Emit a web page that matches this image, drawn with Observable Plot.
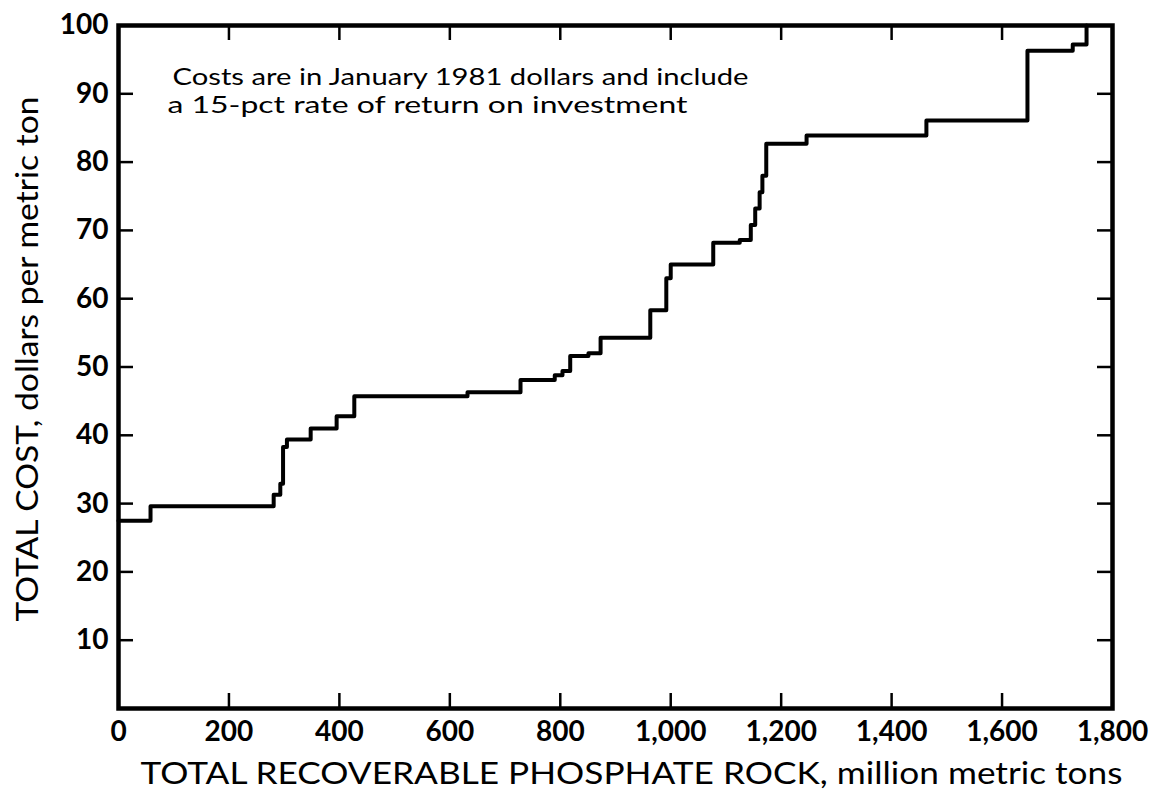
<!DOCTYPE html>
<html><head><meta charset="utf-8">
<script src="https://cdn.jsdelivr.net/npm/d3@7"></script>
<script src="https://cdn.jsdelivr.net/npm/@observablehq/plot@0.6"></script>
<style>body{margin:0;background:#fff}</style>
</head><body><div id="chart"></div>
<script>
// Cumulative recoverable phosphate rock (million metric tons) where each cost level starts
const stepX = [0, 58, 281, 293, 298, 305, 348, 395, 427, 632, 728, 790, 804, 818, 851, 873, 963, 992, 1000, 1077, 1125, 1145, 1153, 1161, 1166, 1173, 1246, 1463, 1646, 1728, 1753];
// Total cost, dollars per metric ton
const stepCost = [27.5, 29.6, 31.3, 32.9, 38.3, 39.4, 41.0, 42.8, 45.7, 46.3, 48.1, 48.8, 49.4, 51.6, 52.0, 54.3, 58.3, 63.0, 65.0, 68.2, 68.6, 70.8, 73.2, 75.6, 78.0, 82.7, 83.9, 86.1, 96.3, 97.2, 100];
const xTicks = [0, 200, 400, 600, 800, 1000, 1200, 1400, 1600, 1800];
const yTicks = [10, 20, 30, 40, 50, 60, 70, 80, 90, 100];
const noteLine1 = "Costs are in January 1981 dollars and include";
const noteLine2 = "a 15-pct rate of return on investment";
const xLabel = "TOTAL RECOVERABLE PHOSPHATE ROCK, million metric tons";
const yLabel = "TOTAL COST, dollars per metric ton";

const data = stepX.map((x, i) => ({x, y: stepCost[i]}));
const W = 1153, H = 799, mL = 118, mR = 41, mT = 25, mB = 91;
const iw = W - mL - mR, ih = H - mT - mB;
const tk = 15;
const innerX = xTicks.slice(1, -1), innerY = yTicks.slice(0, -1);

const chart = Plot.plot({
  width: W, height: H,
  marginLeft: mL, marginRight: mR, marginTop: mT, marginBottom: mB,
  style: {fontFamily: "Lato, 'Open Sans', sans-serif", background: "#fff", color: "#000"},
  x: {domain: [0, 1800]},
  y: {domain: [0, 100]},
  marks: [
    Plot.tickX(innerX, {x: d => d, insetTop: ih - tk, stroke: "#000", strokeWidth: 2.5}),
    Plot.tickX(innerX, {x: d => d, insetBottom: ih - tk, stroke: "#000", strokeWidth: 2.5}),
    Plot.tickY(innerY, {y: d => d, insetRight: iw - tk, stroke: "#000", strokeWidth: 2.5}),
    Plot.tickY(innerY, {y: d => d, insetLeft: iw - tk, stroke: "#000", strokeWidth: 2.5}),
    Plot.axisX(xTicks, {tickSize: 0, tickPadding: 13, tickFormat: d3.format(","), fontSize: 28, fontWeight: "bold", label: null}),
    Plot.axisY(yTicks, {tickSize: 0, tickPadding: 10, fontSize: 28, fontWeight: "bold", label: null}),
    Plot.line(data, {x: "x", y: "y", curve: "step-after", stroke: "#000", strokeWidth: 4}),
    Plot.frame({stroke: "#000", strokeWidth: 4.5}),
    Plot.text([noteLine1], {frameAnchor: "top-left", dx: 54, dy: 43, textAnchor: "start", fontSize: 23, fill: "#000", className: "note1"}),
    Plot.text([noteLine2], {frameAnchor: "top-left", dx: 49, dy: 71, textAnchor: "start", fontSize: 23, fill: "#000", className: "note2"}),
    Plot.text([xLabel], {frameAnchor: "bottom", dy: 75, dx: 16, fontSize: 31, fill: "#000", className: "xlab"}),
    Plot.text([yLabel], {frameAnchor: "left", dx: -90, dy: -8, rotate: -90, textAnchor: "middle", fontSize: 30, fill: "#000", className: "ylab"})
  ]
});
document.getElementById("chart").append(chart);
// stretch the hand-lettered texts to the reference widths
const sel = d3.select(chart);
sel.selectAll(".xlab text").attr("textLength", 982).attr("lengthAdjust", "spacingAndGlyphs");
sel.selectAll(".ylab text").attr("textLength", 525).attr("lengthAdjust", "spacingAndGlyphs");
sel.selectAll(".note1 text").attr("textLength", 576).attr("lengthAdjust", "spacingAndGlyphs");
sel.selectAll(".note2 text").attr("textLength", 520).attr("lengthAdjust", "spacingAndGlyphs");
</script>
</body></html>
